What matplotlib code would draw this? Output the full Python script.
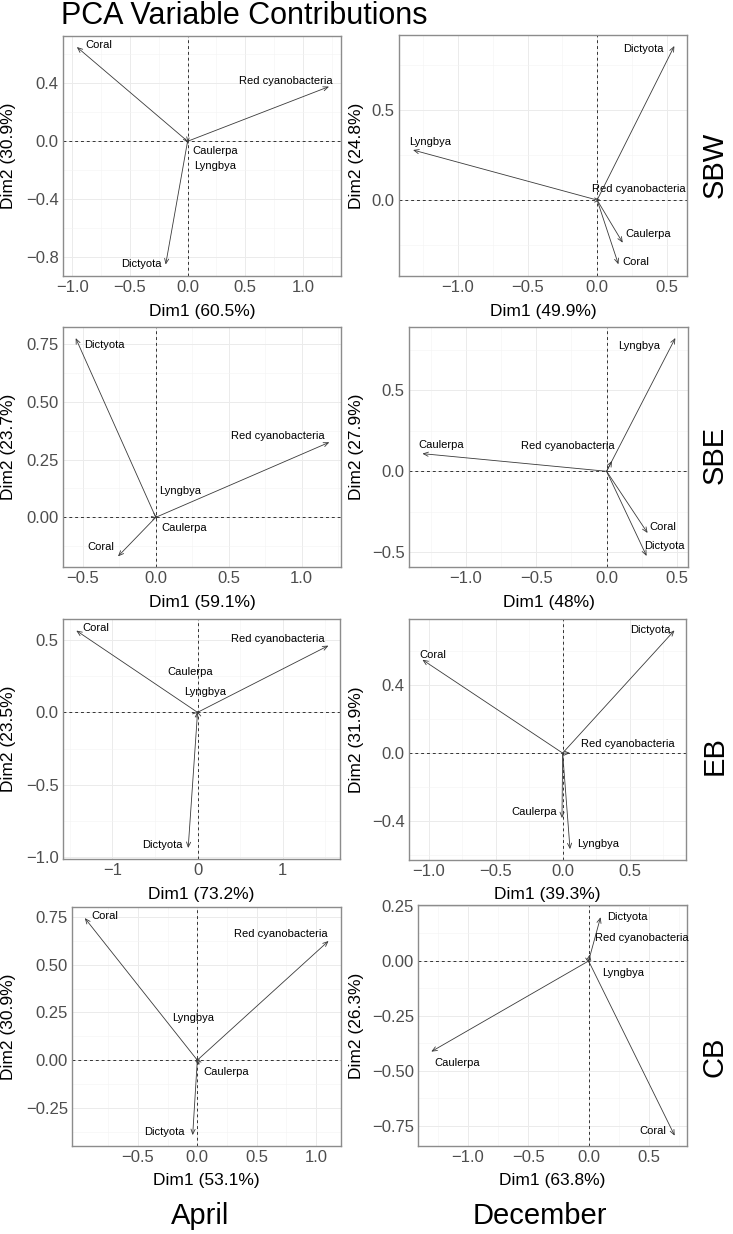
import numpy as np
import matplotlib
matplotlib.use("Agg")
import matplotlib.pyplot as plt
from matplotlib.transforms import blended_transform_factory

plt.rcParams['font.family'] = ['Liberation Sans', 'DejaVu Sans']

# variables, same order in every panel
variables = ["Coral", "Red cyanobacteria", "Dictyota", "Caulerpa", "Lyngbya"]
sites = ["SBW", "SBE", "EB", "CB"]
months = ["April", "December"]

# variable coordinates (Dim1, Dim2) per site / month
sbw_apr_d1 = [-0.96, 1.226, -0.19, 0.01, 0.005]
sbw_apr_d2 = [0.65, 0.377, -0.85, -0.01, -0.02]
sbw_dec_d1 = [0.153, 0.024, 0.555, 0.184, -1.323]
sbw_dec_d2 = [-0.357, 0.0, 0.856, -0.237, 0.278]
sbe_apr_d1 = [-0.259, 1.19, -0.549, 0.01, 0.005]
sbe_apr_d2 = [-0.169, 0.325, 0.776, -0.005, 0.01]
sbe_dec_d1 = [0.291, 0.038, 0.284, -1.308, 0.488]
sbe_dec_d2 = [-0.381, 0.064, -0.523, 0.109, 0.823]
eb_apr_d1 = [-1.424, 1.537, -0.11, -0.005, 0.01]
eb_apr_d2 = [0.565, 0.461, -0.937, 0.01, 0.005]
eb_dec_d1 = [-1.046, 0.055, 0.834, -0.005, 0.055]
eb_dec_d2 = [0.55, 0.0, 0.723, -0.383, -0.566]
cb_apr_d1 = [-0.949, 1.107, -0.039, 0.017, -0.01]
cb_apr_d2 = [0.745, 0.625, -0.393, -0.026, 0.01]
cb_dec_d1 = [0.713, 0.01, 0.099, -1.303, 0.005]
cb_dec_d2 = [-0.794, 0.03, 0.199, -0.412, -0.01]

# explained variance labels
dim1_labels = [["Dim1 (60.5%)", "Dim1 (49.9%)"], ["Dim1 (59.1%)", "Dim1 (48%)"],
               ["Dim1 (73.2%)", "Dim1 (39.3%)"], ["Dim1 (53.1%)", "Dim1 (63.8%)"]]
dim2_labels = [["Dim2 (30.9%)", "Dim2 (24.8%)"], ["Dim2 (23.7%)", "Dim2 (27.9%)"],
               ["Dim2 (23.5%)", "Dim2 (31.9%)"], ["Dim2 (30.9%)", "Dim2 (26.3%)"]]

coords = [[(sbw_apr_d1, sbw_apr_d2), (sbw_dec_d1, sbw_dec_d2)],
          [(sbe_apr_d1, sbe_apr_d2), (sbe_dec_d1, sbe_dec_d2)],
          [(eb_apr_d1, eb_apr_d2), (eb_dec_d1, eb_dec_d2)],
          [(cb_apr_d1, cb_apr_d2), (cb_dec_d1, cb_dec_d2)]]

# ---- layout (pixels from top-left) ----
W, H = 733, 1234
boxes = [[(63, 36, 341, 276), (399, 35, 687, 276)],
         [(63, 327, 341, 567), (409, 327, 688, 567)],
         [(63, 619, 340, 859), (409, 619, 686, 860)],
         [(72, 907, 341, 1146), (418, 905, 687, 1146)]]
xlims = [[(-1.08, 1.33), (-1.424, 0.646)],
         [(-0.636, 1.27), (-1.403, 0.578)],
         [(-1.58, 1.673), (-1.146, 0.92)],
         [(-1.057, 1.212), (-1.413, 0.815)]]
ylims = [[(-0.929, 0.726), (-0.422, 0.917)],
         [(-0.215, 0.824), (-0.591, 0.891)],
         [(-1.013, 0.645), (-0.63, 0.79)],
         [(-0.45, 0.803), (-0.841, 0.2545)]]
xticks = [[[-1.0, -0.5, 0, 0.5, 1.0], [-1.0, -0.5, 0, 0.5]],
          [[-0.5, 0, 0.5, 1.0], [-1.0, -0.5, 0, 0.5]],
          [[-1, 0, 1], [-1.0, -0.5, 0, 0.5]],
          [[-0.5, 0, 0.5, 1.0], [-1.0, -0.5, 0, 0.5]]]
yticks = [[[-0.8, -0.4, 0, 0.4], [0, 0.5]],
          [[0, 0.25, 0.5, 0.75], [-0.5, 0, 0.5]],
          [[-1.0, -0.5, 0, 0.5], [-0.4, 0, 0.4]],
          [[-0.25, 0, 0.25, 0.5, 0.75], [-0.75, -0.5, -0.25, 0, 0.25]]]
xfmt = [["{:.1f}", "{:.1f}"], ["{:.1f}", "{:.1f}"], ["{:.0f}", "{:.1f}"], ["{:.1f}", "{:.1f}"]]
yfmt = [["{:.1f}", "{:.1f}"], ["{:.2f}", "{:.1f}"], ["{:.1f}", "{:.1f}"], ["{:.2f}", "{:.2f}"]]

# label offsets in pixels (right, down) from arrow tip, order as variables
offs = [[[(21.6, -2), (-43.5, -5.7), (-24.5, -1), (26.5, 8.7), (26.5, 22)],
         [(17, -2.6), (37.9, -10.7), (-31.1, 3.3), (25.5, -8.4), (17.5, -8.3)]],
        [[(-17, -9), (-51.8, -6), (28.2, 6.7), (27, 9.6), (23.7, -24.4)],
         [(15.3, -6), (-44.3, -14.7), (18.1, -9.7), (18.8, -8.3), (-36, 8.3)]],
        [[(20, -2.7), (-50.8, -7), (-25.8, -3.3), (-6.7, -39.4), (6.6, -20)],
         [(10, -5), (57.3, -9), (-24.1, 0), (-27.7, -6), (28.3, -5.3)]],
        [[(20, -1.7), (-48, -7.4), (-28.5, -2.7), (27, 7.3), (-3, -40)],
         [(-22.3, -5), (51.9, -16), (26.5, -0.6), (25.5, 11.6), (33.9, 9.7)]]]

ylab_x = [8.5, 356]
row_lab_y = [165, 455, 756, 1057]

fig = plt.figure(figsize=(W / 100, H / 100), dpi=100)

def fx(px):
    return px / W

def fy(py):
    return 1 - py / H

for r in range(4):
    for c in range(2):
        x0, y0, x1, y1 = boxes[r][c]
        ax = fig.add_axes([fx(x0), fy(y1), (x1 - x0) / W, (y1 - y0) / H])

        xt = xticks[r][c]
        yt = yticks[r][c]
        ax.set_xticks(xt)
        ax.set_xticklabels([xfmt[r][c].format(v).replace("-", "\u2212") for v in xt])
        ax.set_yticks(yt)
        ax.set_yticklabels([yfmt[r][c].format(v).replace("-", "\u2212") for v in yt])
        # minor grid halfway between majors
        xm = np.array(xt, dtype=float)
        ym = np.array(yt, dtype=float)
        dx = xm[1] - xm[0]
        dy = ym[1] - ym[0]
        ax.set_xticks(np.arange(xm[0] - dx * 2.5, xm[-1] + dx * 3, dx), minor=True)
        ax.set_yticks(np.arange(ym[0] - dy * 2.5, ym[-1] + dy * 3, dy), minor=True)
        ax.set_xlim(*xlims[r][c])
        ax.set_ylim(*ylims[r][c])

        ax.grid(which='major', color='#EBEBEB', lw=0.7)
        ax.grid(which='minor', color='#F3F3F3', lw=0.4)
        ax.set_axisbelow(True)
        ax.tick_params(which='both', length=0, labelsize=12, colors='#4D4D4D', pad=3)
        for sp in ax.spines.values():
            sp.set_color('#8C8C8C')
            sp.set_linewidth(1.0)

        ax.axhline(0, color='#333333', lw=0.7, ls=(0, (3, 3)))
        ax.axvline(0, color='#333333', lw=0.7, ls=(0, (3, 3)))

        d1, d2 = coords[r][c]
        for i, name in enumerate(variables):
            ax.annotate('', xy=(d1[i], d2[i]), xytext=(0, 0),
                        arrowprops=dict(arrowstyle='->,head_length=0.35,head_width=0.15',
                                        color='#3a3a3a', lw=0.6, shrinkA=0, shrinkB=0))
            ox, oy = offs[r][c][i]
            ax.annotate(name, xy=(d1[i], d2[i]), xytext=(ox, -oy),
                        textcoords='offset pixels', ha='center', va='center',
                        fontsize=8, color='black')

        ax.set_xlabel(dim1_labels[r][c], fontsize=12.5, color='black')
        ax.set_ylabel(dim2_labels[r][c], fontsize=12.5, color='black')
        ax.xaxis.label.set_va('center')
        ax.yaxis.label.set_va('center')
        ax.xaxis.set_label_coords(0.5, fy(y1 + 35),
                                  transform=blended_transform_factory(ax.transAxes, fig.transFigure))
        ax.yaxis.set_label_coords(fx(ylab_x[c]), 0.5,
                                  transform=blended_transform_factory(fig.transFigure, ax.transAxes))

fig.text(fx(61), fy(24), "PCA Variable Contributions", fontsize=22, ha='left', va='baseline')
for r, s in enumerate(sites):
    fig.text(fx(715), fy(row_lab_y[r]), s, fontsize=21, rotation=90, ha='center', va='center')
fig.text(fx(200), fy(1224), months[0], fontsize=21, ha='center', va='baseline')
fig.text(fx(540), fy(1224), months[1], fontsize=21, ha='center', va='baseline')

fig.savefig("out.png", dpi=100)
